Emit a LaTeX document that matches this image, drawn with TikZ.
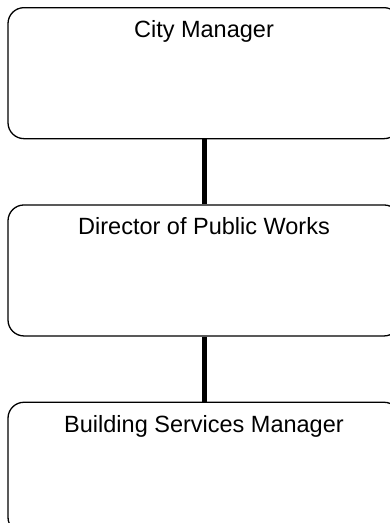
\documentclass[tikz,border=0pt]{standalone}
\usepackage{fontspec}
\setmainfont{Liberation Sans}
\usetikzlibrary{positioning}

\begin{document}
\begin{tikzpicture}[node distance=65pt,
  box/.style={rectangle, draw=black, line width=1.3pt, rounded corners=16pt, minimum width=392pt, inner sep=0pt, text height=30pt, text depth=101pt, font=\fontsize{23.5}{28}\selectfont},
  link/.style={line width=5pt}
]
\clip (0,0) rectangle (390pt,-523pt);
\node[box, anchor=north] (cm) at (204pt,-7pt) {City Manager};
\node[box, below=of cm] (dpw) {Director of Public Works};
\node[box, below=of dpw] (bsm) {Building Services Manager};
\draw[link] (cm) -- (dpw);
\draw[link] (dpw) -- (bsm);
\end{tikzpicture}
\end{document}
